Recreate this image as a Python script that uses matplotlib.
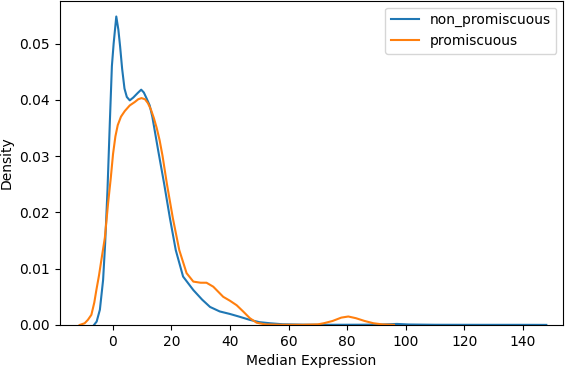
import matplotlib
matplotlib.use('Agg')
import matplotlib.pyplot as plt

# density curves (x = median expression, y = density)
non_prom_x = [-6.4, -5.5, -4.4, -3.3, -2.6, -1.8, -1.0, -0.3, 0.3, 1.2, 1.9, 2.5,
              3.2, 4.0, 4.8, 5.8, 7.0, 8.5, 9.7, 10.6, 11.5, 12.6, 13.5, 14.5,
              15.5, 17.5, 19.5, 21.5, 24.0, 27.5, 30.5, 33.2, 36.5, 40.0, 43.0,
              46.8, 50, 53.7, 58, 65, 75, 85, 92, 97, 101, 110, 125, 140, 148]
non_prom_y = [0, 0.0006, 0.0027, 0.008, 0.0145, 0.024, 0.036, 0.046, 0.050,
              0.0548, 0.0525, 0.0495, 0.0455, 0.042, 0.0405, 0.0399, 0.0404,
              0.0412, 0.0418, 0.0413, 0.0403, 0.0390, 0.0370, 0.0340, 0.031,
              0.0252, 0.019, 0.0133, 0.0086, 0.0062, 0.0045, 0.0032, 0.0024,
              0.00195, 0.0015, 0.0009, 0.0005, 0.0003, 0.00012, 0.00005,
              0.00003, 0.00004, 0.00008, 0.00018, 0.00008, 0.00003, 0.00002,
              0.00002, 0.00001]

prom_x = [-11.3, -9.6, -8.5, -7.3, -6.3, -5.6, -4.7, -3.9, -2.7, -1.6, -0.7, 0.1,
          0.9, 1.7, 2.8, 4.1, 5.8, 7.5, 8.7, 9.8, 11.0, 12.0, 13.0, 14.0, 15.0,
          16.0, 17.0, 18.5, 20.5, 22.7, 25.2, 27.5, 30, 32, 34.3, 36, 37.7, 40,
          42.3, 44.5, 46.8, 49.1, 52, 58, 65, 70, 72, 75, 78, 80.4, 83, 86, 89,
          92, 96]
prom_y = [0, 0.0003, 0.0009, 0.0018, 0.004, 0.0062, 0.0088, 0.0115, 0.0155,
          0.0216, 0.026, 0.0304, 0.0335, 0.0355, 0.037, 0.0380, 0.039, 0.0396,
          0.0401, 0.0403, 0.0401, 0.0394, 0.0383, 0.0368, 0.0350, 0.0328,
          0.0300, 0.0250, 0.019, 0.0133, 0.0092, 0.0077, 0.0075, 0.0075,
          0.0068, 0.0059, 0.005, 0.0043, 0.0035, 0.0024, 0.0012, 0.0004,
          0.0001, 0.00003, 0.00003, 0.0001, 0.0003, 0.0007, 0.0013, 0.0015,
          0.0012, 0.0007, 0.0003, 0.0001, 0.00002]

fig = plt.figure(figsize=(5.69, 3.68), dpi=100)
ax = fig.add_axes([0.105, 0.117, 0.885, 0.881])

ax.plot(non_prom_x, non_prom_y, color='#1f77b4', lw=1.5, label='non_promiscuous')
ax.plot(prom_x, prom_y, color='#ff7f0e', lw=1.5, label='promiscuous')

ax.set_xlim(-18.1, 153.8)
ax.set_ylim(0, 0.0576)
ax.set_xticks([0, 20, 40, 60, 80, 100, 120, 140])
ax.set_yticks([0, 0.01, 0.02, 0.03, 0.04, 0.05])
ax.set_yticklabels(['0.00', '0.01', '0.02', '0.03', '0.04', '0.05'])
ax.set_xlabel('Median Expression')
ax.set_ylabel('Density')
ax.legend(loc='upper right')

fig.savefig('out.png', dpi=100)
